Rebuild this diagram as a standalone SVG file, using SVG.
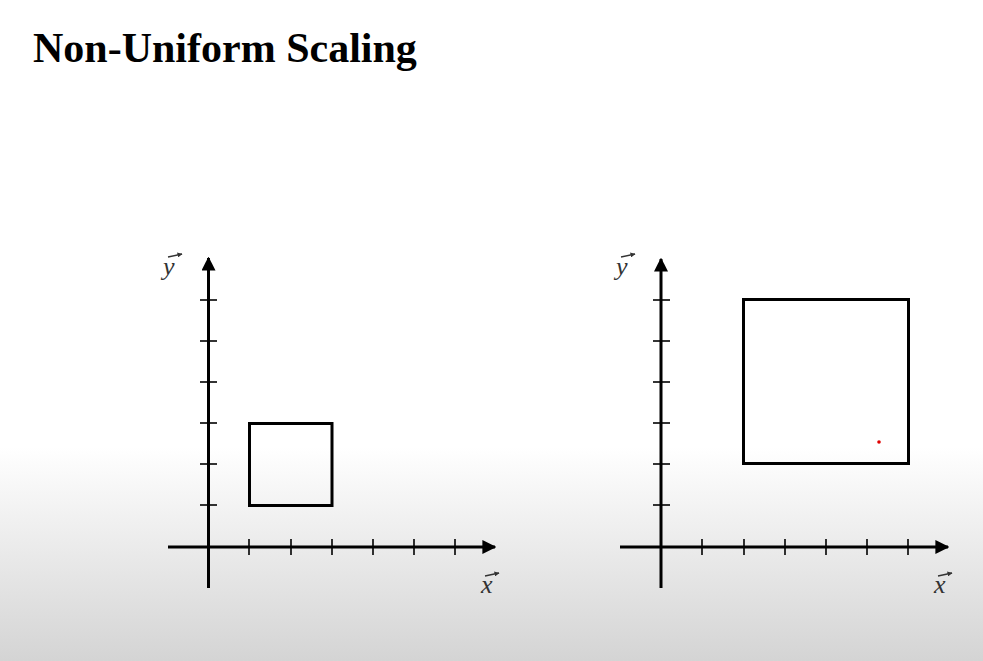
<svg xmlns="http://www.w3.org/2000/svg" width="983" height="661" viewBox="0 0 983 661">
<defs>
<linearGradient id="bg" x1="0" y1="0" x2="0" y2="1">
<stop offset="0" stop-color="#ffffff"/>
<stop offset="0.676" stop-color="#ffffff"/>
<stop offset="1" stop-color="#d4d4d4"/>
</linearGradient>
<marker id="ah" viewBox="0 0 10 10" refX="9" refY="5" markerWidth="14" markerHeight="14" markerUnits="userSpaceOnUse" orient="auto">
<path d="M0,0 L10,5 L0,10 Z" fill="#000"/>
</marker>
<marker id="va" viewBox="0 0 10 10" refX="9" refY="5" markerWidth="5" markerHeight="5" markerUnits="userSpaceOnUse" orient="auto">
<path d="M0,0 L10,5 L0,10 Z" fill="#333"/>
</marker>
</defs>
<style>
.axis{stroke:#000;stroke-width:3;fill:none}
.tick{stroke:#000;stroke-width:1.6}
.box{stroke:#000;stroke-width:3;fill:none}
.lbl{font-family:"Liberation Serif","DejaVu Serif",serif;font-style:italic;font-size:26px;fill:#333}
.vec{stroke:#333;stroke-width:1.3}
.title{font-family:"Liberation Serif","Times New Roman",serif;font-weight:bold;font-size:42px;fill:#000}
</style>
<rect x="0" y="0" width="983" height="661" fill="url(#bg)"/>
<text class="title" x="33" y="62">Non-Uniform Scaling</text>

<g id="left-plot">
<g id="connectors-left">
<line class="axis" x1="168" y1="547" x2="495" y2="547" marker-end="url(#ah)"/>
<line class="axis" x1="208.5" y1="588" x2="208.5" y2="258" marker-end="url(#ah)"/>
</g>
<g class="tick">
<line x1="200" y1="300" x2="217" y2="300"/>
<line x1="200" y1="341" x2="217" y2="341"/>
<line x1="200" y1="382" x2="217" y2="382"/>
<line x1="200" y1="423" x2="217" y2="423"/>
<line x1="200" y1="464" x2="217" y2="464"/>
<line x1="200" y1="505" x2="217" y2="505"/>
<line x1="249" y1="539" x2="249" y2="555"/>
<line x1="291" y1="539" x2="291" y2="555"/>
<line x1="332" y1="539" x2="332" y2="555"/>
<line x1="373" y1="539" x2="373" y2="555"/>
<line x1="414" y1="539" x2="414" y2="555"/>
<line x1="455" y1="539" x2="455" y2="555"/>
</g>
<g id="left-square"><rect class="box" x="249.5" y="423.5" width="82.5" height="82"/></g>
<g id="left-ylabel">
<text class="lbl" x="163" y="275">y</text>
<line class="vec" x1="168" y1="257" x2="182" y2="254" marker-end="url(#va)"/>
</g>
<g id="left-xlabel">
<text class="lbl" x="481" y="593">x</text>
<line class="vec" x1="485" y1="576" x2="499" y2="573" marker-end="url(#va)"/>
</g>
</g>

<g id="right-plot">
<g id="connectors-right">
<line class="axis" x1="620" y1="547" x2="948" y2="547" marker-end="url(#ah)"/>
<line class="axis" x1="661" y1="588" x2="661" y2="259" marker-end="url(#ah)"/>
</g>
<g class="tick">
<line x1="653" y1="300" x2="670" y2="300"/>
<line x1="653" y1="341" x2="670" y2="341"/>
<line x1="653" y1="382" x2="670" y2="382"/>
<line x1="653" y1="423" x2="670" y2="423"/>
<line x1="653" y1="464" x2="670" y2="464"/>
<line x1="653" y1="505" x2="670" y2="505"/>
<line x1="702" y1="539" x2="702" y2="555"/>
<line x1="744" y1="539" x2="744" y2="555"/>
<line x1="785" y1="539" x2="785" y2="555"/>
<line x1="826" y1="539" x2="826" y2="555"/>
<line x1="867" y1="539" x2="867" y2="555"/>
<line x1="908" y1="539" x2="908" y2="555"/>
</g>
<g id="right-square"><rect class="box" x="743.5" y="299.5" width="165" height="164"/></g>
<circle cx="879" cy="442" r="1.8" fill="#e00000"/>
<g id="right-ylabel">
<text class="lbl" x="616" y="275">y</text>
<line class="vec" x1="621" y1="257" x2="635" y2="254" marker-end="url(#va)"/>
</g>
<g id="right-xlabel">
<text class="lbl" x="934" y="593">x</text>
<line class="vec" x1="938" y1="576" x2="952" y2="573" marker-end="url(#va)"/>
</g>
</g>
</svg>
